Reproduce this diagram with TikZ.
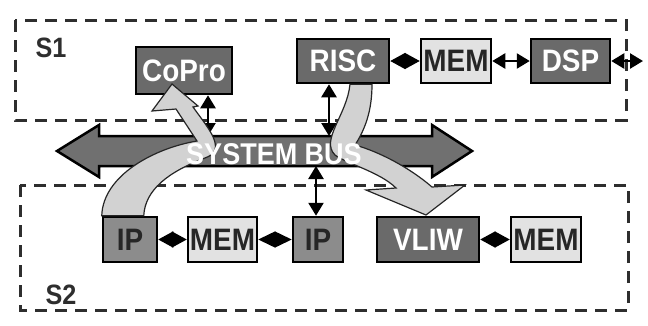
\documentclass[tikz,border=0pt]{standalone}
\usepackage{xcolor}
\usepackage{fontspec}
\usepackage{tikz}
\usetikzlibrary{arrows.meta}
\usetikzlibrary{calc}
\newfontfamily\boxfont[FakeStretch=0.9]{Liberation Sans}
\definecolor{cpugray}{HTML}{6A6A6A}
\definecolor{ipgray}{HTML}{8C8C8C}
\definecolor{memgray}{HTML}{E2E2E2}
\definecolor{busgray}{HTML}{707070}
\definecolor{bandgray}{HTML}{D2D2D2}
\definecolor{dashgray}{HTML}{2E2E2E}
\tikzstyle{block}=[rectangle,draw=black,line width=2.5pt,inner sep=0pt,font=\boxfont\bfseries\fontsize{31}{31}\selectfont]
\tikzstyle{cpu}=[block,fill=cpugray,text=white]
\tikzstyle{ipcore}=[block,fill=ipgray,text=black!85]
\tikzstyle{mem}=[block,fill=memgray,text=black!85]
\tikzstyle{region}=[draw=dashgray,line width=3pt,dash pattern=on 12pt off 8pt]
\tikzstyle{regionname}=[text=dashgray,font=\boxfont\bfseries\fontsize{28}{28}\selectfont]
\tikzstyle{link}=[draw,line width=2.5pt,{Triangle[length=13pt,width=15pt]}-{Triangle[length=13pt,width=15pt]}]
\tikzset{bond/.style={draw,line width=1.5pt,{Triangle[length=#1pt,width=16pt]}-{Triangle[length=#1pt,width=16pt]}}}
\tikzstyle{band}=[draw=black!85,line width=1.2pt,fill=bandgray]

\begin{document}
\begin{tikzpicture}[x=1pt,y=-1pt]

 \useasboundingbox (0,0) rectangle (648,325);

 %S1 and S2
 \draw[region] (15,20) rectangle (626,120);
 \draw[region] (20,185) rectangle (628,310);
 \node[regionname] (s1) at (51,48) {S1};
 \node[regionname] (s2) at (61,295) {S2};

 %bus
 \draw[fill=busgray,line width=2.5pt] (57,151) -- (99,125) -- (99,136) -- (432,136) -- (432,125)
   -- (472,151) -- (432,177) -- (432,166) -- (99,166) -- (99,177) -- cycle;
 \coordinate (bt1) at (208,136);
 \coordinate (bt2) at (329,136);
 \coordinate (bb1) at (316,166);

 %top row
 \node[cpu,minimum width=96pt,minimum height=47pt] (copro) at (184,70.5) {CoPro};
 \foreach \x/\w/\name/\label in {343/92/risc/RISC, 570.5/79/dsp/DSP}
          \node[cpu,minimum width=\w pt,minimum height=44pt] (\name) at (\x,61) {\label};
 \node[mem,minimum width=70pt,minimum height=44pt] (mem1) at (456,61) {MEM};
 \coordinate (out) at (643,61);

 %bottom row
 \foreach \x/\w/\name/\label in {130/54/ip1/IP, 318/50/ip2/IP}
          \node[ipcore,minimum width=\w pt,minimum height=45pt] (\name) at (\x,239.5) {\label};
 \foreach \x/\w/\name/\label in {222.5/69/mem2/MEM, 546/70/mem3/MEM}
          \node[mem,minimum width=\w pt,minimum height=45pt] (\name) at (\x,239.5) {\label};
 \node[cpu,minimum width=102pt,minimum height=45pt] (vliw) at (428,239.5) {VLIW};

 \foreach \source/ \dest /\len in {risc/mem1/15, ip1/mem2/15, mem2/ip2/17, vliw/mem3/15}
         \path[bond=\len] (\source.east) -- (\dest.west);

 \path[link] (mem1.east) -- (dsp.west);
 \path[link] (dsp.east) -- (out);
 \path[link] ([xshift=24pt]copro.south) -- (bt1);
 \path[link] ([xshift=-14pt]risc.south) -- (bt2);
 \path[link] (bb1) -- ([xshift=-2pt]ip2.north);

 %IP -> CoPro
 \draw[band] (ip1.north west) .. controls (103,175) and (155,148) .. (197,141)
   -- (176,109) -- (152,111) -- (172,84) -- (198,106) -- (193,107)
   .. controls (208,128) and (228,150) .. (205,158)
   .. controls (168,172) and (145,190) .. ([xshift=42pt]ip1.north west) -- cycle;

 %RISC -> VLIW
 \draw[band] ([xshift=7pt]risc.south) .. controls (347,115) and (320,140) .. (335,155)
   .. controls (345,163) and (380,172) .. (396,188)
   -- (366,190) -- (426,215) -- (465,185) -- (432,187)
   .. controls (410,168) and (380,152) .. (355,145)
   .. controls (368,125) and (372,105) .. ([xshift=29pt]risc.south) -- cycle;

 \node[text=white,font=\boxfont\bfseries\fontsize{30}{30}\selectfont] (busname) at (274,154) {SYSTEM BUS};

\end{tikzpicture}
\end{document}
